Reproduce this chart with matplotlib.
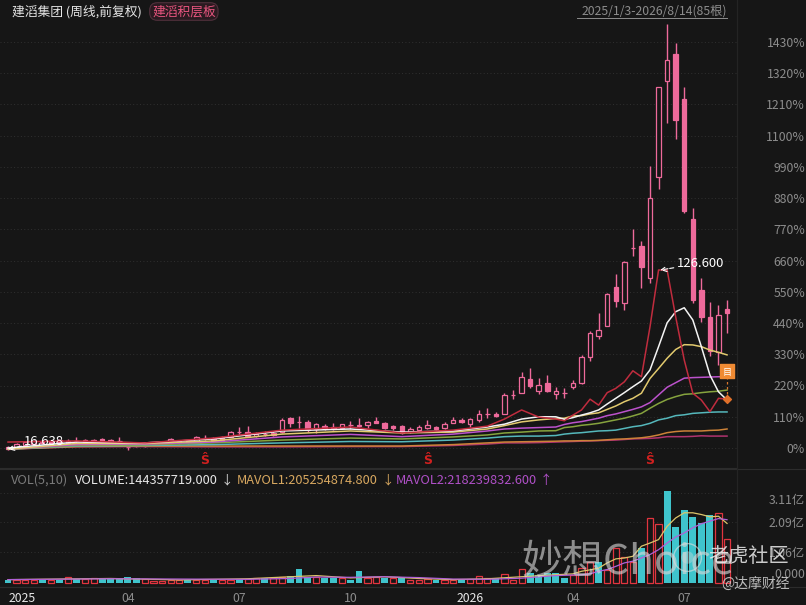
import matplotlib
matplotlib.use("Agg")
import matplotlib.pyplot as plt
import numpy as np

plt.rcParams["font.family"] = ["Noto Sans CJK SC", "DejaVu Sans"]

# weekly candles, in percent from the start of the range
opens = [-4, 4, 11, 14, 25, 25, 21, 18, 24, 28, 18, 30, 21, 24, 2, 14, 18, 11, 21, 18, 18,
         25, 22, 36, 35, 39, 40, 57, 56, 42, 49, 54, 56, 107, 91, 93, 67, 77, 75, 71, 81,
         81, 81, 96, 89, 77, 77, 55, 63, 71, 74, 71, 89, 99, 84, 99, 120, 120, 121, 186,
         195, 243, 201, 229, 191, 194, 214, 230, 320, 394, 431, 567, 510, 704, 711, 598,
         955, 1293, 1389, 1228, 805, 556, 461, 339, 488]
closes = [4, 14, 21, 25, 18, 18, 28, 26, 25, 16, 28, 21, 28, 25, 3, 7, 7, 18, 14, 32, 26,
          18, 39, 37, 25, 28, 56, 58, 42, 49, 50, 46, 99, 88, 92, 63, 84, 70, 67, 83, 82,
          76, 93, 89, 70, 70, 53, 67, 74, 82, 67, 86, 99, 90, 101, 120, 121, 114, 187, 187,
          250, 219, 222, 201, 201, 195, 229, 320, 405, 415, 542, 518, 655, 706, 636, 880,
          1270, 1368, 1155, 834, 523, 462, 341, 468, 474]
highs = [7, 18, 25, 28, 28, 28, 32, 32, 39, 32, 32, 35, 32, 39, 11, 18, 21, 21, 25, 35, 28,
         28, 42, 46, 39, 42, 60, 74, 77, 56, 60, 60, 106, 109, 113, 99, 88, 84, 88, 84, 95,
         107, 95, 109, 92, 81, 81, 74, 81, 99, 77, 92, 109, 106, 106, 134, 141, 127, 194,
         204, 268, 282, 246, 257, 215, 211, 239, 327, 412, 475, 546, 612, 658, 771, 729,
         993, 1271, 1495, 1428, 1272, 844, 598, 515, 503, 521]
lows = [-7, 0, 7, 11, 14, 14, 18, 14, 18, 14, 14, 18, 18, 14, -7, 4, 4, 7, 11, 14, 14, 14,
        21, 28, 21, 25, 39, 46, 39, 39, 42, 42, 53, 74, 70, 56, 53, 63, 63, 67, 67, 74,
        70, 88, 67, 63, 49, 53, 60, 67, 63, 67, 88, 88, 74, 92, 106, 109, 120, 172, 194,
        211, 190, 197, 172, 176, 208, 225, 306, 384, 429, 497, 486, 677, 564, 582, 911,
        1143, 1088, 828, 511, 445, 324, 292, 406]

pct_ticks = [0, 110, 220, 330, 440, 550, 660, 770, 880, 990, 1100, 1210, 1320, 1430]

# moving average readings, one value per entry of ma_weeks
ma_weeks = [0, 8, 16, 24, 32, 40, 46, 52, 56, 58, 60, 62, 64, 65, 66, 67, 68, 69, 70, 71,
            72, 73, 74, 75, 76, 77, 78, 79, 80, 81, 82, 83, 84]
ma_red = [21, 25, 18, 35, 63, 74, 53, 63, 77, 102, 134, 109, 102, 96, 116, 134, 172, 151,
          195, 210, 233, 272, 251, 427, 627, 627, 462, 310, 193, 169, 128, 175, 172]
ma_white = [0, 21, 18, 32, 60, 67, 56, 60, 74, 84, 102, 110, 110, 101, 107, 116, 124, 134,
            155, 175, 195, 216, 236, 275, 357, 441, 480, 494, 451, 357, 257, 198, 169]
ma_yellow = [-4, 16, 16, 25, 49, 60, 53, 56, 67, 79, 92, 99, 104, 105, 113, 114, 120, 124,
             136, 148, 163, 175, 193, 245, 280, 316, 347, 364, 363, 357, 345, 337, 328]
ma_purple = [-4, 12, 14, 21, 39, 48, 40, 49, 60, 67, 70, 72, 74, 83, 89, 93, 99, 105, 114,
             120, 128, 136, 145, 160, 187, 214, 230, 246, 248, 249, 250, 251, 251]
ma_green = [-4, 9, 11, 18, 28, 35, 32, 39, 46, 53, 56, 60, 61, 72, 75, 80, 83, 87, 93, 99,
            105, 113, 122, 140, 157, 171, 181, 189, 191, 195, 198, 200, 204]
ma_teal = [-4, 7, 9, 12, 18, 23, 22, 28, 35, 40, 42, 42, 44, 49, 52, 54, 57, 60, 61, 63,
           69, 75, 79, 87, 99, 105, 114, 117, 122, 124, 126, 127, 127]
ma_orange = [-4, 5, 7, 7, 7, 7, 7, 12, 18, 21, 22, 23, 24, 25, 25, 26, 26, 27, 29, 31, 32,
             34, 36, 40, 46, 54, 58, 60, 60, 60, 62, 63, 67]
ma_maroon = [-4, 4, 5, 4, 4, 5, 5, 9, 14, 18, 18, 19, 21, 22, 23, 24, 25, 26, 27, 28, 30,
             32, 33, 34, 36, 40, 40, 40, 41, 43, 42, 42, 42]

# volume in 亿 shares, 1 means the bar is hollow red, 0 teal
volumes = [0.10, 0.09, 0.09, 0.09, 0.09, 0.09, 0.10, 0.18, 0.13, 0.13, 0.16, 0.13, 0.15,
           0.15, 0.20, 0.15, 0.13, 0.06, 0.04, 0.09, 0.09, 0.09, 0.09, 0.09, 0.09, 0.09,
           0.09, 0.13, 0.13, 0.15, 0.15, 0.14, 0.18, 0.24, 0.46, 0.20, 0.18, 0.15, 0.15,
           0.15, 0.10, 0.40, 0.17, 0.20, 0.15, 0.15, 0.15, 0.08, 0.09, 0.11, 0.10, 0.10,
           0.10, 0.12, 0.12, 0.24, 0.17, 0.16, 0.30, 0.09, 0.47, 0.33, 0.26, 0.33, 0.33,
           0.16, 0.26, 0.50, 0.72, 0.72, 0.45, 1.20, 0.90, 0.72, 1.20, 2.23, 2.02, 3.17,
           1.92, 2.52, 2.26, 2.06, 2.34, 2.40, 1.50]
vol_up = [0, 1, 1, 1, 0, 1, 0, 1, 0, 1, 1, 0, 0, 0, 0, 0, 1, 1, 1, 1, 1, 0, 1, 1, 0, 1, 1,
          0, 1, 1, 0, 1, 1, 0, 0, 0, 1, 0, 0, 1, 0, 0, 1, 1, 0, 1, 0, 1, 1, 1, 0, 1, 1, 0,
          1, 1, 1, 0, 1, 1, 1, 0, 0, 0, 0, 0, 1, 1, 1, 0, 1, 1, 1, 1, 0, 1, 1, 0, 0, 0, 0,
          0, 0, 1, 1]
mavol_weeks = [0, 12, 20, 28, 33, 36, 40, 44, 48, 52, 56, 60, 64, 66, 67, 68, 69, 70, 71,
               72, 73, 74, 75, 76, 77, 78, 79, 80, 81, 82, 83, 84]
mavol1 = [0.10, 0.14, 0.09, 0.13, 0.20, 0.24, 0.16, 0.20, 0.14, 0.10, 0.13, 0.20, 0.27,
          0.30, 0.39, 0.44, 0.50, 0.68, 0.82, 0.85, 0.91, 1.26, 1.37, 1.49, 1.95, 2.24,
          2.42, 2.42, 2.36, 2.28, 2.30, 2.05]
mavol2 = [0.10, 0.13, 0.12, 0.11, 0.14, 0.19, 0.18, 0.20, 0.17, 0.12, 0.11, 0.15, 0.24,
          0.26, 0.27, 0.30, 0.39, 0.45, 0.56, 0.68, 0.74, 0.85, 0.97, 1.14, 1.37, 1.58,
          1.72, 1.90, 2.04, 2.13, 2.22, 2.18]
vol_ticks = [3.11, 2.09, 1.06, 0.0]
vol_tick_labels = ["3.11亿", "2.09亿", "1.06亿", "0.000"]

month_weeks = [14, 27, 40, 54, 66, 79]
month_labels = ["04", "07", "10", "2026", "04", "07"]
signal_weeks = [23, 49, 75]

BG = "#161616"
GRID = "#303030"
PINK = "#ee6a9b"
W, H = 806, 605


def px(x, y):
    return x / W, 1 - y / H


def label_px(x, y):
    # the CJK font sits high in its box, push centred text down a little
    return px(x, y + 1.5)


fig = plt.figure(figsize=(W / 100, H / 100), dpi=100, facecolor=BG)
ax = fig.add_axes([0, (H - 468) / H, 737 / W, 468 / H], facecolor=BG)
ax_vol = fig.add_axes([0, (H - 587) / H, 737 / W, 118 / H], facecolor=BG, sharex=ax)

weeks = np.arange(len(closes))

# candles
for i in weeks:
    o, c = opens[i], closes[i]
    hollow = c >= o
    ax.vlines(i, lows[i], highs[i], color=PINK, lw=1, zorder=2)
    ax.bar(i, abs(c - o), bottom=min(o, c), width=0.52, zorder=3,
           facecolor=BG if hollow else PINK, edgecolor=PINK, linewidth=0.9)

ma_lines = [(ma_maroon, "#b0336f"), (ma_orange, "#cc8238"), (ma_teal, "#55b8bc"),
            (ma_green, "#86a33e"), (ma_purple, "#bc52cc"), (ma_yellow, "#e2ca6e"),
            (ma_white, "#f4f4f4"), (ma_red, "#c02c3e")]
for vals, col in ma_lines:
    ax.plot(ma_weeks, vals, color=col, lw=1.1, zorder=4)

for t in pct_ticks:
    ax.axhline(t, color=GRID, lw=0.7, ls=(0, (1, 2.5)), zorder=1)
    ax.text(805 / 737, t - 5, f"{t}%", transform=ax.get_yaxis_transform(), ha="right",
            va="center", color="#8c8c8c", fontsize=8.8, clip_on=False)

ax.annotate("126.600", xy=(76.2, 627), xytext=(78.1, 650), color="white", fontsize=9.4,
            va="center", ha="left", zorder=6,
            arrowprops=dict(arrowstyle="->", color="white", ls="--", lw=0.8,
                            shrinkA=0, shrinkB=0))
ax.annotate("16.638", xy=(0, -4), xytext=(1.9, 24), color="white", fontsize=9.4,
            va="center", ha="left", zorder=6,
            arrowprops=dict(arrowstyle="->", color="white", ls="--", lw=0.8,
                            shrinkA=0, shrinkB=0))

for w in signal_weeks:
    ax.text(w, -44, "Ŝ", color="#d0201f", fontsize=9, fontweight="bold", ha="center",
            va="center", family="DejaVu Sans")

# event marker on the last week
ax.vlines(84, 172, 270, color="#d9772e", lw=0.9, ls=(0, (2, 2)), zorder=5)
ax.scatter([84], [172], marker="D", s=16, color="#e0702a", zorder=6)
ax.scatter([84], [270], marker="s", s=95, color="#ef8a33", zorder=6)
ax.text(84, 266, "目", color="white", fontsize=6.5, ha="center", va="center", zorder=7)

ax.set_xlim(-8 / 8.56, 729 / 8.56)
ax.set_ylim(-70.4, 1577.9)

# volume panel
for i in weeks:
    if vol_up[i]:
        ax_vol.bar(i, volumes[i], width=0.72, facecolor=BG, edgecolor="#e2353f",
                   linewidth=0.9, zorder=3)
    else:
        ax_vol.bar(i, volumes[i], width=0.8, color="#3fc4cc", zorder=3)
ax_vol.plot(mavol_weeks, mavol1, color="#dcc46a", lw=0.9, zorder=4)
ax_vol.plot(mavol_weeks, mavol2, color="#b060d8", lw=0.9, zorder=4)
ax_vol.set_ylim(-0.156, 3.94)

for t, lab in zip(vol_ticks, vol_tick_labels):
    if t > 0:
        ax_vol.axhline(t, color=GRID, lw=0.7, ls=(0, (1, 2.5)), zorder=1)
    va = "top" if t == 3.11 else ("bottom" if t == 0 else "center")
    ax_vol.text(805 / 737, t + (0.04 if t == 0 else -0.05), lab,
                transform=ax_vol.get_yaxis_transform(), ha="right", va=va,
                color="#8c8c8c", fontsize=8.8, clip_on=False)

for a in (ax, ax_vol):
    a.set_xticks([])
    a.set_yticks([])
    for name, sp in a.spines.items():
        sp.set_visible(name in ("right", "bottom"))
        sp.set_color("#2c2c2c")
        sp.set_linewidth(0.8)

fig.add_artist(plt.Line2D([0, 1], [1 - 468.5 / H] * 2, color="#2c2c2c", lw=0.8))
fig.add_artist(plt.Line2D([0, 1], [1 - 587 / H] * 2, color="#2c2c2c", lw=0.8))
fig.add_artist(plt.Line2D([737 / W] * 2, [1 - 587 / H, 1], color="#242424", lw=0.8))

# date labels under the panels
fig.text(*label_px(9, 597), "2025", color="#e8e8e8", fontsize=8.8, ha="left", va="center")
for w, lab in zip(month_weeks, month_labels):
    xp = 8 + 8.56 * w
    col = "#e8e8e8" if lab == "2026" else "#8c8c8c"
    fig.text(*label_px(xp, 597), lab, color=col, fontsize=8.8, ha="center", va="center")

# header
fig.text(*label_px(12, 10), "建滔集团 (周线,前复权)", color="#e6e6e6", fontsize=9.2, va="center")
fig.text(*label_px(152, 10), "建滔积层板", color="#e8557f", fontsize=9.2, va="center",
         bbox=dict(boxstyle="round,pad=0.18,rounding_size=0.6", fc="#2a1a20",
                   ec="#50303c", lw=0.8))
fig.text(*label_px(727, 10), "2025/1/3-2026/8/14(85根)", color="#8c8c8c", fontsize=8.8,
         ha="right", va="center")
fig.add_artist(plt.Line2D([577 / W, 727 / W], [1 - 17.5 / H] * 2, color="#8c8c8c", lw=0.7))

fig.text(*label_px(11, 479), "VOL(5,10)", color="#7a7a7a", fontsize=9.2, va="center")
fig.text(*label_px(75, 479), "VOLUME:144357719.000", color="#e8e8e8", fontsize=9.2, va="center")
fig.text(*label_px(227, 479), "↓", color="#d8d8d8", fontsize=9, ha="center", va="center")
fig.text(*label_px(237, 479), "MAVOL1:205254874.800", color="#d8a860", fontsize=9.2, va="center")
fig.text(*label_px(388, 479), "↓", color="#d8a860", fontsize=9, ha="center", va="center")
fig.text(*label_px(396, 479), "MAVOL2:218239832.600", color="#b050c8", fontsize=9.2, va="center")
fig.text(*label_px(546, 479), "↑", color="#b050c8", fontsize=9, ha="center", va="center")

# watermarks
fig.text(*px(521, 562), "妙想Choice", color="#d8d8d8", alpha=0.62, fontsize=29.5, va="center",
         zorder=10)
fig.text(*px(708, 556), "老虎社区", color="#ececec", alpha=0.85, fontsize=14.5, va="center",
         zorder=10)
fig.text(*px(721, 584), "@达摩财经", color="#d8d8d8", alpha=0.85, fontsize=10, va="center",
         zorder=10)
fig.add_artist(plt.Line2D([687 / W], [1 - 557 / H], marker="o", ms=20, mfc="none",
                          mec="#e0e0e0", alpha=0.6, mew=1))
fig.add_artist(plt.Line2D([687 / W], [1 - 557 / H], marker="o", ms=9, mfc="#e0e0e0",
                          mec="none", alpha=0.35))

fig.savefig("out.png", dpi=100, facecolor=BG)
